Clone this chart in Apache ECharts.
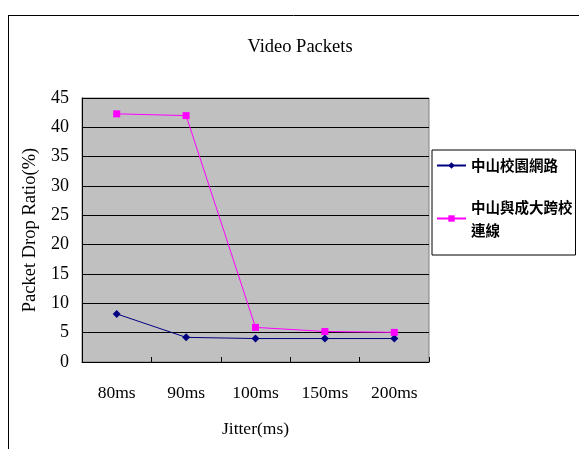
<!DOCTYPE html>
<html>
<head>
<meta charset="utf-8">
<script src="https://cdn.jsdelivr.net/npm/echarts@6/dist/echarts.min.js"></script>
<style>
html,body{margin:0;padding:0;background:#fff;}
#chart{width:579px;height:449px;}
</style>
</head>
<body>
<div id="chart"></div>
<script>
// Jitter categories and packet drop ratios (%)
var categories = ['80ms', '90ms', '100ms', '150ms', '200ms'];
var campusNet = [8.2, 4.2, 4.0, 4.0, 4.0];
var crossCampus = [42.3, 42.0, 5.9, 5.2, 5.05];
var seriesNames = ['中山校園網路', '中山與成大跨校連線'];
var yTicks = { min: 0, max: 45, interval: 5 };

var serif = 'Liberation Serif';
var cjk = '"Noto Sans CJK TC"';

var chart = echarts.init(document.getElementById('chart'), null, { renderer: 'canvas' });

chart.setOption({
  backgroundColor: '#ffffff',
  animation: false,
  title: {
    text: 'Video Packets',
    left: 295,
    top: 33,
    textAlign: 'center',
    textStyle: { fontFamily: serif, fontSize: 18.5, fontWeight: 'normal', color: '#000' }
  },
  graphic: [
    { type: 'line', shape: { x1: 8, y1: 15.5, x2: 579, y2: 15.5 }, style: { stroke: '#000', lineWidth: 1 } },
    { type: 'line', shape: { x1: 8.5, y1: 15, x2: 8.5, y2: 449 }, style: { stroke: '#000', lineWidth: 1 } }
  ],
  legend: {
    orient: 'vertical',
    left: 432,
    top: 150,
    padding: [4, 3, 2, 4],
    itemGap: 7,
    itemWidth: 29,
    itemHeight: 8,
    borderColor: '#000',
    borderWidth: 1,
    backgroundColor: '#fff',
    formatter: function (name) {
      return name === seriesNames[1] ? '中山與成大跨校\n連線' : name;
    },
    textStyle: { fontFamily: cjk, fontSize: 14.5, fontWeight: 'bold', color: '#000', lineHeight: 23 },
    data: [
      { name: seriesNames[0] },
      { name: seriesNames[1], textStyle: { padding: [23, 0, 0, 0] } }
    ]
  },
  grid: {
    left: 82,
    top: 98,
    width: 347,
    height: 264,
    show: true,
    backgroundColor: '#c0c0c0',
    borderColor: '#808080',
    borderWidth: 1
  },
  xAxis: {
    type: 'category',
    data: categories,
    boundaryGap: true,
    name: 'Jitter(ms)',
    nameLocation: 'middle',
    nameGap: 58,
    nameTextStyle: { fontFamily: serif, fontSize: 17.5, color: '#000' },
    axisLine: { lineStyle: { color: '#000', width: 1 } },
    axisTick: { show: true, inside: true, length: 5, lineStyle: { color: '#000' } },
    axisLabel: { fontFamily: serif, fontSize: 17.5, color: '#000', margin: 22 }
  },
  yAxis: {
    type: 'value',
    min: yTicks.min,
    max: yTicks.max,
    interval: yTicks.interval,
    name: 'Packet Drop Ratio(%)',
    nameLocation: 'middle',
    nameGap: 39,
    nameTextStyle: { fontFamily: serif, fontSize: 18.5, color: '#000' },
    axisLine: { show: true, lineStyle: { color: '#000', width: 1 } },
    axisTick: { show: false },
    axisLabel: { fontFamily: serif, fontSize: 18, color: '#000', margin: 13 },
    splitLine: { show: true, lineStyle: { color: '#000', width: 1 } }
  },
  series: [
    {
      name: seriesNames[0],
      type: 'line',
      data: campusNet,
      symbol: 'diamond',
      symbolSize: 8,
      lineStyle: { color: '#000080', width: 1 },
      itemStyle: { color: '#000080' }
    },
    {
      name: seriesNames[1],
      type: 'line',
      data: crossCampus,
      symbol: 'rect',
      symbolSize: 7,
      lineStyle: { color: '#ff00ff', width: 1 },
      itemStyle: { color: '#ff00ff' }
    }
  ]
});
</script>
</body>
</html>
